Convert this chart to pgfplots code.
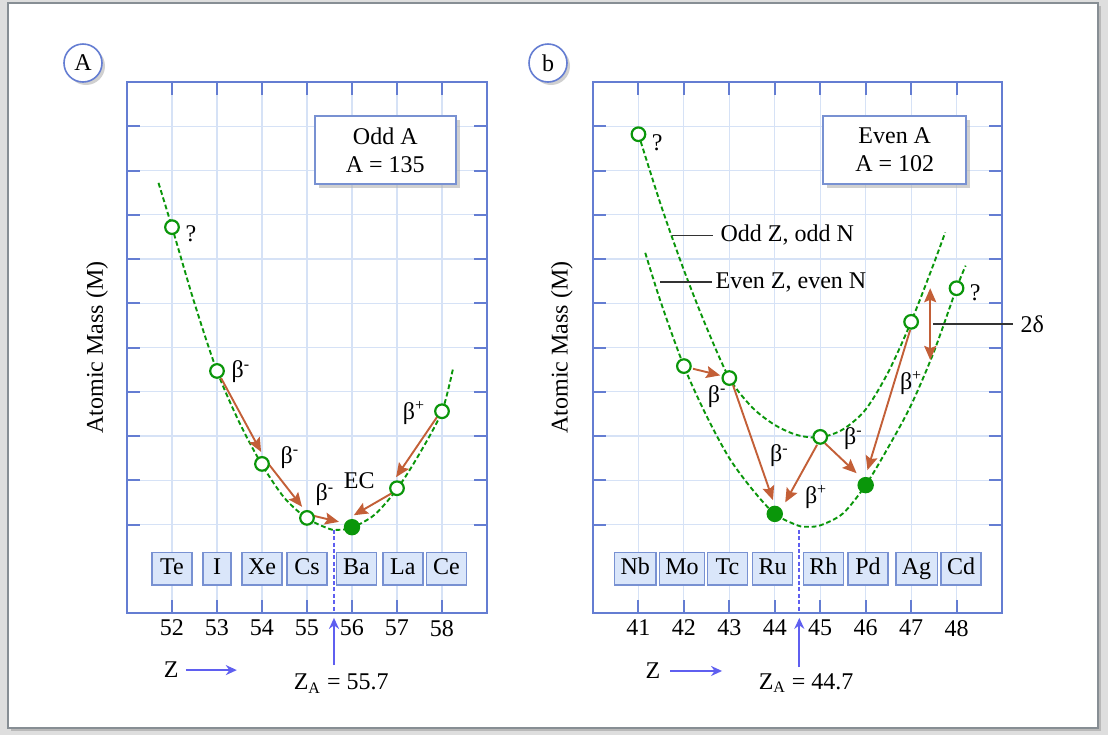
\documentclass[border=0pt]{standalone}
\usepackage{fontspec}
\setmainfont{Liberation Serif}
\usepackage{pgfplots}
\pgfplotsset{compat=1.18}
\usetikzlibrary{arrows.meta,shadows}

\definecolor{axisblue}{RGB}{100,125,210}
\definecolor{gridblue}{RGB}{214,226,246}
\definecolor{boxfill}{RGB}{218,230,250}
\definecolor{boxdraw}{RGB}{120,145,210}
\definecolor{mygreen}{RGB}{10,150,10}
\definecolor{arrbrown}{RGB}{195,95,55}
\definecolor{zblue}{RGB}{95,95,240}
\definecolor{bggray}{RGB}{222,222,222}
\definecolor{framegray}{RGB}{135,142,148}

\newcommand{\fsz}{\fontsize{12pt}{14pt}\selectfont}

\pgfplotsset{
  panel/.style={
    scale only axis, height=265.5pt, ymin=0, ymax=12,
    anchor=south west, clip=false,
    axis line style={axisblue, line width=1pt},
    tick align=inside, xtick pos=both, ytick pos=both,
    xticklabel pos=lower,
    major tick length=6.5pt,
    tick style={axisblue, line width=1pt},
    ytick={2,...,11}, yticklabels={},
    grid=major, major grid style={gridblue, line width=0.6pt},
    /pgf/number format/assume math mode=true,
    ticklabel style={font=\fsz},
    label style={font=\fsz},
    ylabel={Atomic Mass (M)},
  },
  curve/.style={mygreen, line width=0.95pt, dash pattern=on 2.4pt off 1.4pt, smooth, no marks},
  openpt/.style={only marks, mark=*, mark size=3.4pt, mark options={draw=mygreen, fill=white, line width=1.1pt}},
  fullpt/.style={only marks, mark=*, mark size=3.6pt, mark options={draw=mygreen, fill=mygreen, line width=1pt}},
}
\tikzset{
  arr/.style={arrbrown, line width=0.95pt, -{Stealth[length=7pt,width=6pt,inset=1.2pt]}},
  elbox/.style={draw=boxdraw, fill=boxfill, line width=0.7pt, minimum height=16pt, minimum width=20pt,
    inner xsep=3pt, inner ysep=2.6pt, text height=8.5pt, text depth=2.5pt, font=\fsz},
  tbox/.style={draw=boxdraw, fill=white, line width=0.8pt, align=center, font=\fsz,
    drop shadow={shadow xshift=2pt, shadow yshift=-2pt, fill=gray!60, opacity=0.6}},
  lbl/.style={font=\fsz, inner sep=0pt},
  zarr/.style={zblue, line width=1pt, -{Stealth[length=5.5pt,width=5pt]}},
}

\begin{document}
\begin{tikzpicture}
\useasboundingbox (0,0) rectangle (554pt,-367.5pt);
\fill[bggray] (0,0) rectangle (554pt,-367.5pt);
\fill[gray!55] (5.5pt,-3pt) rectangle (550.5pt,-365.5pt);
\draw[fill=white, draw=framegray, line width=1pt] (4pt,-1.5pt) rectangle (549pt,-364pt);

\node[circle, draw=axisblue, line width=0.8pt, fill=white, minimum size=19pt, inner sep=0pt, font=\fsz,
  drop shadow={shadow xshift=1.5pt, shadow yshift=-1.5pt, fill=gray!60, opacity=0.6}] at (41.5pt,-31.5pt) {A};
\node[circle, draw=axisblue, line width=0.8pt, fill=white, minimum size=19pt, inner sep=0pt, font=\fsz,
  drop shadow={shadow xshift=1.5pt, shadow yshift=-1.5pt, fill=gray!60, opacity=0.6}] at (274pt,-31.5pt) {b};

% ---------------- Left panel ----------------
\begin{axis}[panel, at={(63.5pt,-306.5pt)}, width=180pt,
  xmin=51, xmax=59, xtick={52,...,58},
  ylabel style={at={(axis description cs:-0.083,0.5)}, anchor=center}]
\addplot[curve] coordinates {(51.7,9.72) (52,8.72) (52.5,7.0) (53,5.47) (53.5,4.3) (54,3.35) (54.5,2.6) (55,2.14) (55.5,1.9) (55.7,1.88) (56,1.93) (56.5,2.22) (57,2.8) (57.5,3.6) (58,4.56) (58.25,5.55)};
\draw[arr] (axis cs:53.09,5.31) -- (axis cs:53.98,3.64);
\draw[arr] (axis cs:54.16,3.35) -- (axis cs:54.89,2.4);
\draw[arr] (axis cs:55.09,2.21) -- (axis cs:55.71,2.06);
\draw[arr] (axis cs:57.89,4.43) -- (axis cs:56.98,3.07);
\draw[arr] (axis cs:56.89,2.71) -- (axis cs:56.04,2.21);
\addplot[openpt] coordinates {(52,8.72) (53,5.47) (54,3.37) (55,2.15) (57,2.82) (58,4.56)};
\addplot[fullpt] coordinates {(56,1.94)};
\node[lbl] at (axis cs:52.42,8.57) {?};
\node[lbl] at (axis cs:53.53,5.45) {β\textsuperscript{-}};
\node[lbl] at (axis cs:54.62,3.52) {β\textsuperscript{-}};
\node[lbl] at (axis cs:55.4,2.67) {β\textsuperscript{-}};
\node[lbl] at (axis cs:56.16,2.98) {EC};
\node[lbl] at (axis cs:57.38,4.52) {β\textsuperscript{+}};
\node[tbox, minimum width=70.5pt, minimum height=34pt] at (axis cs:56.74,10.46) {Odd A\\A = 135};
\node[elbox] at (axis cs:52,1) {Te};
\node[elbox, minimum width=14pt] at (axis cs:53,1) {I};
\node[elbox] at (axis cs:54,1) {Xe};
\node[elbox] at (axis cs:55,1) {Cs};
\node[elbox] at (axis cs:56.1,1) {Ba};
\node[elbox] at (axis cs:57.13,1) {La};
\node[elbox] at (axis cs:58.1,1) {Ce};
\draw[zblue, line width=0.9pt, dash pattern=on 2pt off 1.2pt] (axis cs:55.6,1.88) -- (axis cs:55.6,0);
\draw[zarr] (axis cs:55.6,-1.18) -- (axis cs:55.6,-0.11);
\node[lbl] at (axis cs:55.76,-1.6) {Z\textsubscript{A} = 55.7};
\node[lbl] at (axis cs:51.98,-1.29) {Z};
\draw[zarr] (axis cs:52.31,-1.29) -- (axis cs:53.44,-1.29);
\end{axis}

% ---------------- Right panel ----------------
\begin{axis}[panel, at={(296.5pt,-306.5pt)}, width=204.5pt,
  xmin=40, xmax=49, xtick={41,...,48},
  ylabel style={at={(axis description cs:-0.076,0.5)}, anchor=center}]
\addplot[curve] coordinates {(41,10.82) (41.5,9.2) (42,7.75) (42.5,6.45) (43,5.31) (43.5,4.65) (44,4.25) (44.5,4.02) (45,3.97) (45.5,4.15) (46,4.6) (46.5,5.45) (47,6.58) (47.5,7.9) (47.75,8.6)};
\addplot[curve] coordinates {(41.15,8.14) (41.5,7.0) (42,5.58) (42.5,4.45) (43,3.5) (43.5,2.8) (44,2.24) (44.5,1.98) (44.7,1.95) (45,1.98) (45.5,2.25) (46,2.89) (46.5,3.75) (47,4.7) (47.5,5.9) (48,7.34) (48.2,7.85)};
\draw[arr] (axis cs:42.2,5.52) -- (axis cs:42.8,5.37);
\draw[arr] (axis cs:43.08,5.15) -- (axis cs:43.96,2.55);
\draw[arr] (axis cs:44.93,3.8) -- (axis cs:44.23,2.5);
\draw[arr] (axis cs:45.1,3.84) -- (axis cs:45.8,3.16);
\draw[arr] (axis cs:46.98,6.4) -- (axis cs:46.04,3.23);
\draw[arrbrown, line width=0.95pt, {Stealth[length=7pt,width=6pt,inset=1.2pt]}-{Stealth[length=7pt,width=6pt,inset=1.2pt]}] (axis cs:47.42,7.34) -- (axis cs:47.42,5.72);
\addplot[openpt] coordinates {(41,10.82) (42,5.58) (43,5.31) (45,3.98) (47,6.58) (48,7.34)};
\addplot[fullpt] coordinates {(44,2.24) (46,2.89)};
\node[lbl] at (axis cs:41.41,10.62) {?};
\node[lbl] at (axis cs:48.41,7.23) {?};
\node[lbl] at (axis cs:42.73,4.9) {β\textsuperscript{-}};
\node[lbl] at (axis cs:44.1,3.55) {β\textsuperscript{-}};
\node[lbl] at (axis cs:44.91,2.62) {β\textsuperscript{+}};
\node[lbl] at (axis cs:45.73,3.95) {β\textsuperscript{-}};
\node[lbl] at (axis cs:47.0,5.2) {β\textsuperscript{+}};
\draw[black!80, line width=0.6pt] (axis cs:41.74,8.54) -- (axis cs:42.64,8.54);
\node[lbl, anchor=west] at (axis cs:42.8,8.54) {Odd Z, odd N};
\draw[black!80, line width=0.6pt] (axis cs:41.48,7.48) -- (axis cs:42.62,7.48);
\node[lbl, anchor=west] at (axis cs:42.69,7.48) {Even Z, even N};
\draw[black!80, line width=0.6pt] (axis cs:47.49,6.53) -- (axis cs:49.25,6.53);
\node[lbl, anchor=west] at (axis cs:49.4,6.53) {2δ};
\node[tbox, minimum width=71.5pt, minimum height=34pt] at (axis cs:46.64,10.46) {Even A\\A = 102};
\node[elbox] at (axis cs:40.93,1) {Nb};
\node[elbox] at (axis cs:41.96,1) {Mo};
\node[elbox] at (axis cs:42.96,1) {Tc};
\node[elbox] at (axis cs:43.95,1) {Ru};
\node[elbox] at (axis cs:45.07,1) {Rh};
\node[elbox] at (axis cs:46.05,1) {Pd};
\node[elbox] at (axis cs:47.12,1) {Ag};
\node[elbox] at (axis cs:48.1,1) {Cd};
\draw[zblue, line width=0.9pt, dash pattern=on 2pt off 1.2pt] (axis cs:44.54,1.88) -- (axis cs:44.54,0);
\draw[zarr] (axis cs:44.54,-1.22) -- (axis cs:44.54,-0.11);
\node[lbl] at (axis cs:44.69,-1.58) {Z\textsubscript{A} = 44.7};
\node[lbl] at (axis cs:41.32,-1.31) {Z};
\draw[zarr] (axis cs:41.7,-1.31) -- (axis cs:42.84,-1.31);
\end{axis}
\end{tikzpicture}
\end{document}
